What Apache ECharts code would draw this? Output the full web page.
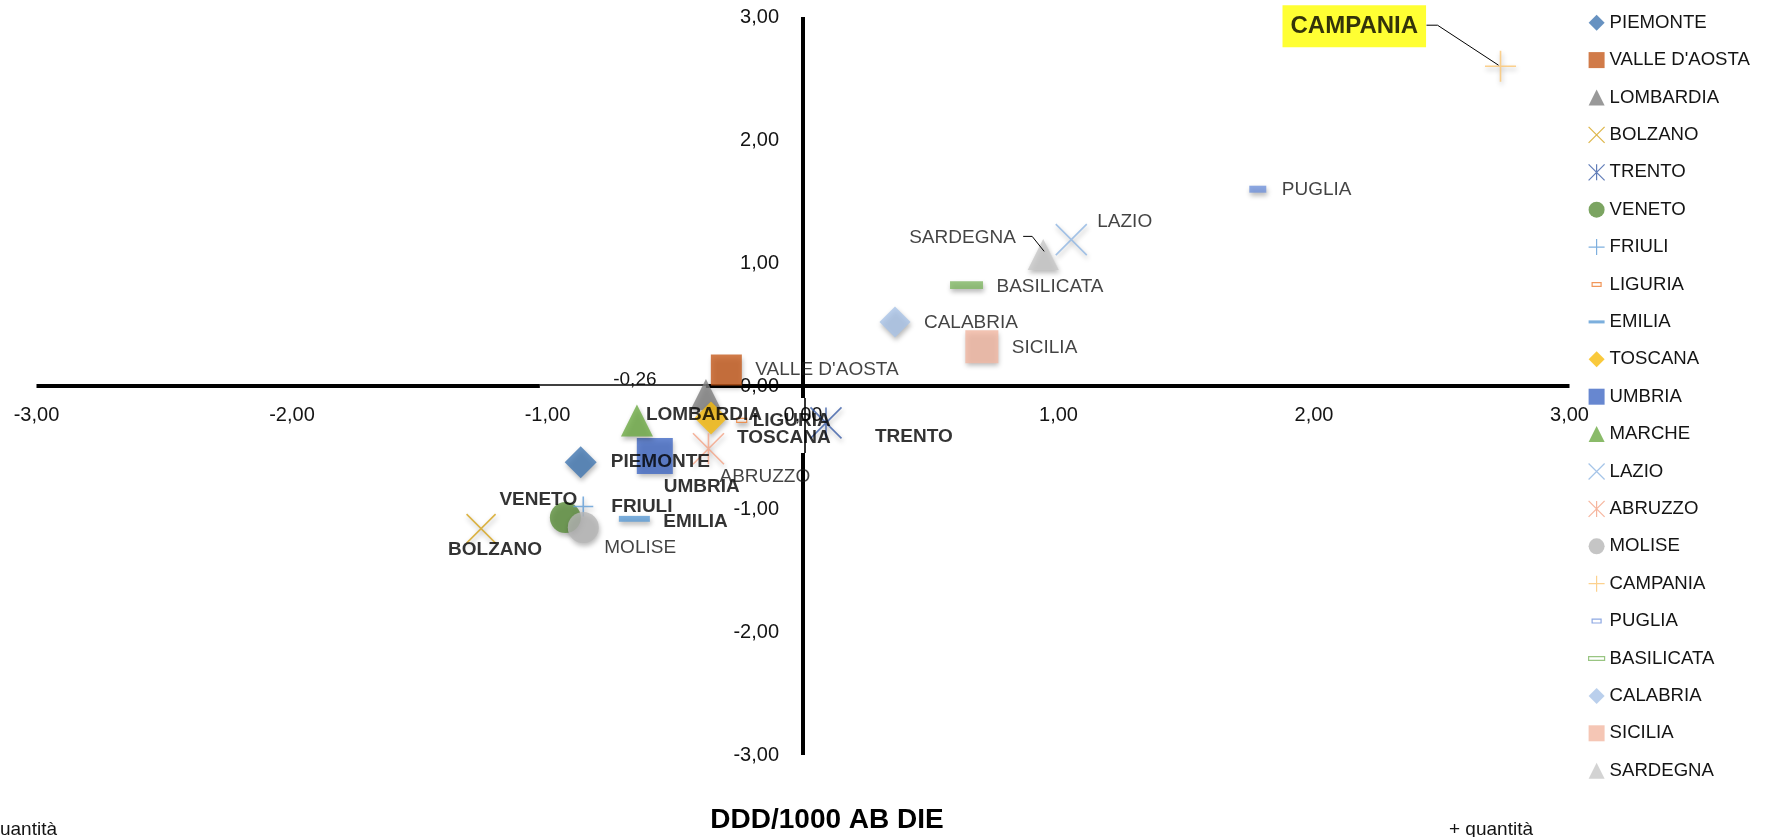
<!DOCTYPE html>
<html>
<head>
<meta charset="utf-8">
<script src="https://cdn.jsdelivr.net/npm/echarts@6/dist/echarts.min.js"></script>
<style>
  html, body { margin: 0; padding: 0; background: #fff; }
  #chart { width: 1781px; height: 837px; }
</style>
</head>
<body>
<div id="chart"></div>
<script>
// Regional positions (x / y scores)
const regions = ['PIEMONTE', "VALLE D'AOSTA", 'LOMBARDIA', 'BOLZANO', 'TRENTO', 'VENETO', 'FRIULI', 'LIGURIA',
  'EMILIA', 'TOSCANA', 'UMBRIA', 'MARCHE', 'LAZIO', 'ABRUZZO', 'MOLISE', 'CAMPANIA', 'PUGLIA',
  'BASILICATA', 'CALABRIA', 'SICILIA', 'SARDEGNA'];
const xValues = [-0.87, -0.30, -0.38, -1.26, 0.09, -0.93, -0.86, -0.24, -0.66, -0.36, -0.58, -0.65,
  1.05, -0.37, -0.86, 2.73, 1.78, 0.64, 0.36, 0.70, 0.94];
const yValues = [-0.62, 0.13, -0.07, -1.16, -0.30, -1.07, -0.98, -0.28, -1.08, -0.26, -0.57, -0.28,
  1.19, -0.51, -1.15, 2.60, 1.60, 0.82, 0.52, 0.32, 1.07];

const axisMin = -3;
const axisMax = 3;
const axisStep = 1;
const refValueText = '-0,26';
const xAxisTitle = 'DDD/1000 AB DIE';
const lowText = '- quantità';
const highText = '+ quantità';

const FONT = "'Liberation Sans', Arial, sans-serif";

// Plot area
const GRID = { left: 36.5, top: 17, width: 1533, height: 738 };

// Marker shapes
const SHAPE = {
  cross: 'path://M0 0L100 100M100 0L0 100',
  star: 'path://M0 0L100 100M100 0L0 100M50 0L50 100',
  plus: 'path://M50 0L50 100M0 50L100 50',
  dash: 'path://M0 0M100 100M0 40.5H100V59.5H0Z',
  wideDash: 'path://M0 0M100 100M0 38H100V62H0Z',
  bar: 'path://M0 0M100 100M0 29.5H100V70.5H0Z',
  tinyBar: 'path://M0 0M100 100M0 30H100V70H0Z',
  legendBar: 'path://M0 0M100 100M22 38H78V62H22Z'
};

// Per-region style: symbol, size, colour, stroke-only flag, label offset, bold
const style = {
  'PIEMONTE':      { s: 'diamond', z: 32, c: '#4177B1', lab: [30, 0], b: true },
  "VALLE D'AOSTA": { s: 'rect', z: 31, c: '#C55A1C', lab: [29, 0] },
  'LOMBARDIA':     { s: 'triangle', z: 31, c: '#7F7F7F', lab: [-60, 20], b: true },
  'BOLZANO':       { s: SHAPE.cross, z: 29, c: '#D4A319', line: true, lab: [-33, 21], b: true },
  'TRENTO':        { s: SHAPE.star, z: 31, c: '#3A5CA6', line: true, lab: [49, 14], b: true },
  'VENETO':        { s: 'circle', z: 31, c: '#5A8D3A', lab: [-66, -18], b: true },
  'FRIULI':        { s: SHAPE.plus, z: 20, c: '#5E9BD6', line: true, lab: [28, 0], b: true },
  'LIGURIA':       { s: SHAPE.tinyBar, z: 10, c: '#ED7D31', outline: true, lab: [11, 0], b: true },
  'EMILIA':        { s: SHAPE.dash, z: 31, c: '#5B9BD5', lab: [29, 3], b: true },
  'TOSCANA':       { s: 'diamond', z: 33, c: '#F8BB0B', lab: [26, 20], b: true },
  'UMBRIA':        { s: 'rect', z: 36, c: '#4169C4', lab: [9, 31], b: true },
  'MARCHE':        { s: 'triangle', z: 32, c: '#6DAA43', lab: null },
  'LAZIO':         { s: SHAPE.cross, z: 31, c: '#8FB5E2', line: true, lab: [26, -18] },
  'ABRUZZO':       { s: SHAPE.star, z: 31, c: '#F4A384', line: true, lab: [11, 28] },
  'MOLISE':        { s: 'circle', z: 31, c: '#B6B6B6', lab: [21, 20] },
  'CAMPANIA':      { s: SHAPE.plus, z: 31, c: '#FBC572', line: true, lab: [-218, -40], b: true, hi: true },
  'PUGLIA':        { s: SHAPE.bar, z: 17, c: '#7192DB', lab: [24, 1] },
  'BASILICATA':    { s: SHAPE.wideDash, z: 33, c: '#7FB763', lab: [30, 2] },
  'CALABRIA':      { s: 'diamond', z: 31, c: '#A9C3E7', lab: [29, 1] },
  'SICILIA':       { s: 'rect', z: 33, c: '#F3B8A3', lab: [30, 1] },
  'SARDEGNA':      { s: 'triangle', z: 31, c: '#C8C8C8', lab: [-134, -17] }
};

// Leader lines, as offsets from the marker centre
const leaders = {
  'CAMPANIA': [[-74, -41], [-63, -41], [-2, -1]],
  'SARDEGNA': [[-20, -18], [-11, -18], [1, -3]]
};

const shadow = { shadowBlur: 5, shadowColor: 'rgba(0,0,0,0.35)', shadowOffsetX: 1, shadowOffsetY: 3 };

const pointSeries = regions.map((name, i) => {
  const st = style[name];
  let itemStyle;
  if (st.line) {
    itemStyle = Object.assign({ color: 'rgba(0,0,0,0)', borderColor: st.c, borderWidth: 1.6 }, shadow);
  } else if (st.outline) {
    itemStyle = Object.assign({ color: '#fff', borderColor: st.c, borderWidth: 1.2 }, shadow);
  } else {
    itemStyle = Object.assign({ color: st.c, borderWidth: 0 }, shadow);
  }
  const label = st.lab ? {
    show: true,
    position: 'inside',
    align: 'left',
    verticalAlign: 'middle',
    offset: st.lab,
    formatter: name,
    fontFamily: FONT,
    fontSize: st.hi ? 24 : 19,
    lineHeight: st.hi ? 26 : 22,
    fontWeight: st.b ? 'bold' : 'normal',
    color: st.b ? '#000' : '#141414',
    backgroundColor: st.hi ? '#FFFF00' : 'transparent',
    padding: st.hi ? [8, 8, 8, 8] : 0
  } : { show: false };
  return {
    type: 'scatter',
    name: name,
    z: 3,
    data: [[xValues[i], yValues[i]]],
    symbol: st.s,
    symbolSize: st.z,
    itemStyle: itemStyle,
    label: label,
    emphasis: { disabled: true },
    silent: true
  };
});

// Axis cross lines (thick parts and the thin section)
const axisSegments = [
  { coords: [[-3, 0], [-1.03, 0]], w: 4 },
  { coords: [[-1.03, 0.012], [-0.38, 0.012]], w: 1.6, tag: true },
  { coords: [[-0.38, 0], [3, 0]], w: 4 },
  { coords: [[0, 3], [0, -0.098]], w: 4 },
  { coords: [[0.005, -0.098], [0.005, -0.545]], w: 1.6 },
  { coords: [[0, -0.545], [0, -3]], w: 4 }
];

const axisLinesSeries = {
  type: 'lines',
  coordinateSystem: 'cartesian2d',
  z: 1,
  silent: true,
  polyline: false,
  data: axisSegments.map(seg => ({
    coords: seg.coords,
    lineStyle: { width: seg.w, color: '#000', opacity: 1 },
    label: seg.tag ? {
      show: true,
      position: 'insideMiddleTop',
      distance: -5,
      formatter: refValueText,
      fontFamily: FONT,
      fontSize: 19,
      color: '#141414',
      padding: [0, 0, 0, 24]
    } : { show: false }
  })),
  lineStyle: { color: '#000', curveness: 0 },
  label: { show: false }
};

const tickFmt = v => v.toFixed(2).replace('.', ',');

const legendData = regions.map(name => {
  const st = style[name];
  const item = { name: name };
  if (st.line) {
    item.itemStyle = { borderWidth: 1.2 };
  }
  if (name === 'LIGURIA' || name === 'PUGLIA') {
    item.icon = SHAPE.legendBar;
    item.itemStyle = { color: '#fff', borderColor: st.c, borderWidth: 1.2 };
  }
  if (name === 'BASILICATA') {
    item.icon = SHAPE.wideDash;
    item.itemStyle = { color: '#fff', borderColor: st.c, borderWidth: 1.2 };
  }
  return item;
});

const chart = echarts.init(document.getElementById('chart'), null, { renderer: 'canvas' });

// Tick labels sit along the zero lines, so shift each axis to the middle of the grid
const option = {
  animation: false,
  backgroundColor: '#ffffff',
  grid: {
    left: GRID.left, top: GRID.top, width: GRID.width, height: GRID.height,
    containLabel: false, outerBoundsMode: 'none'
  },
  xAxis: {
    type: 'value',
    position: 'bottom',
    offset: -GRID.height / 2,
    min: axisMin, max: axisMax, interval: axisStep,
    axisLine: { show: false, onZero: false },
    axisTick: { show: false },
    splitLine: { show: false },
    axisLabel: {
      show: true, margin: 19, formatter: tickFmt,
      fontFamily: FONT, fontSize: 20, color: '#141414',
      showMinLabel: true, showMaxLabel: true, hideOverlap: false
    }
  },
  yAxis: {
    type: 'value',
    position: 'left',
    offset: -GRID.width / 2,
    min: axisMin, max: axisMax, interval: axisStep,
    axisLine: { show: false, onZero: false },
    axisTick: { show: false },
    splitLine: { show: false },
    axisLabel: {
      show: true, margin: 24, formatter: tickFmt,
      fontFamily: FONT, fontSize: 20, color: '#141414',
      showMinLabel: true, showMaxLabel: true, hideOverlap: false
    }
  },
  legend: {
    orient: 'vertical',
    left: 1588,
    top: 12.7,
    padding: 0,
    itemWidth: 16,
    itemHeight: 16,
    itemGap: 17.4,
    selectedMode: false,
    data: legendData,
    textStyle: { fontFamily: FONT, fontSize: 18.6, lineHeight: 20, color: '#141414' }
  },
  graphic: {
    elements: [
      {
        type: 'text', silent: true, x: 827, y: 820,
        style: { text: xAxisTitle, fontFamily: FONT, fontSize: 28, fontWeight: 'bold', fill: '#000',
          align: 'center', verticalAlign: 'middle' }
      },
      {
        type: 'text', silent: true, x: 57, y: 830,
        style: { text: lowText, fontFamily: FONT, fontSize: 19, fill: '#141414',
          align: 'right', verticalAlign: 'middle' }
      },
      {
        type: 'text', silent: true, x: 1449, y: 830,
        style: { text: highText, fontFamily: FONT, fontSize: 19, fill: '#141414',
          align: 'left', verticalAlign: 'middle' }
      }
    ]
  },
  series: [axisLinesSeries].concat(pointSeries)
};

chart.setOption(option);

// Leader lines from the moved labels back to their markers
const leaderEls = Object.keys(leaders).map(name => {
  const i = regions.indexOf(name);
  const p = chart.convertToPixel({ gridIndex: 0 }, [xValues[i], yValues[i]]);
  return {
    type: 'polyline',
    id: 'leader-' + i,
    silent: true,
    z: 10,
    shape: { points: leaders[name].map(d => [p[0] + d[0], p[1] + d[1]]) },
    style: { stroke: '#000', lineWidth: 1, fill: null }
  };
});
chart.setOption({ graphic: { elements: option.graphic.elements.concat(leaderEls) } });
</script>
</body>
</html>
